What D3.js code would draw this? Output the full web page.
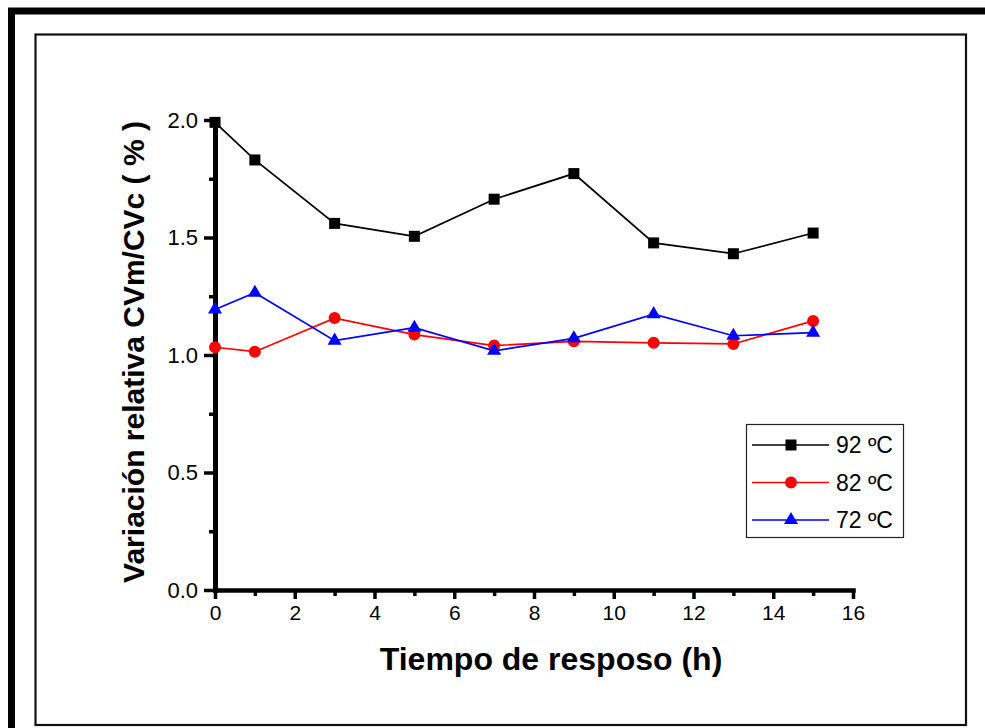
<!DOCTYPE html>
<html>
<head>
<meta charset="utf-8">
<script src="https://cdn.jsdelivr.net/npm/d3@7"></script>
<style>
  body { margin: 0; background: #fff; }
  svg { display: block; font-family: "Liberation Sans", Arial, sans-serif; }
</style>
</head>
<body>
<svg id="chart" width="985" height="728"></svg>
<script>
// time (h) and relative variation for each temperature
var hours = [0, 1, 3, 5, 7, 9, 11, 13, 15];
var t92 = [1.99, 1.83, 1.56, 1.505, 1.663, 1.772, 1.477, 1.431, 1.519];
var t82 = [1.033, 1.014, 1.157, 1.087, 1.040, 1.058, 1.052, 1.047, 1.145];
var t72 = [1.194, 1.265, 1.061, 1.116, 1.018, 1.071, 1.174, 1.082, 1.095];
var seriesNames = ["92 ºC", "82 ºC", "72 ºC"];
var xTicks = [0, 2, 4, 6, 8, 10, 12, 14, 16];
var yTicks = [0, 0.5, 1.0, 1.5, 2.0];

var series = [
  { name: seriesNames[0], values: t92, color: "#000000", symbol: d3.symbolSquare, size: 121 },
  { name: seriesNames[1], values: t82, color: "#ff0000", symbol: d3.symbolCircle, size: 113 },
  { name: seriesNames[2], values: t72, color: "#0000ff", symbol: d3.symbolTriangle, size: 85 }
];

var svg = d3.select("#chart");

// frames
svg.append("rect")
  .attr("x", 11.5).attr("y", 11).attr("width", 1100).attr("height", 1000)
  .attr("fill", "none").attr("stroke", "#000").attr("stroke-width", 7);
svg.append("rect")
  .attr("x", 35.5).attr("y", 34.5).attr("width", 930.5).attr("height", 690.5)
  .attr("fill", "none").attr("stroke", "#111").attr("stroke-width", 2.2);

var x = d3.scaleLinear().domain([0, 16]).range([215, 853]);
var y = d3.scaleLinear().domain([0, 2]).range([590, 120]);

// minor ticks
svg.append("g")
  .attr("transform", "translate(0," + y(0) + ")")
  .call(d3.axisBottom(x).tickValues(d3.range(1, 16, 2)).tickSize(6).tickFormat(""))
  .call(function (g) { g.select(".domain").remove(); })
  .selectAll("line").attr("stroke-width", 3.5);
svg.append("g")
  .attr("transform", "translate(" + x(0) + ",0)")
  .call(d3.axisLeft(y).tickValues([0.25, 0.75, 1.25, 1.75]).tickSize(6).tickFormat(""))
  .call(function (g) { g.select(".domain").remove(); })
  .selectAll("line").attr("stroke-width", 3.5);

// major axes
var xAxis = svg.append("g")
  .attr("transform", "translate(0," + y(0) + ")")
  .call(d3.axisBottom(x).tickValues(xTicks).tickSize(9).tickSizeOuter(0).tickPadding(6).tickFormat(d3.format("d")));
var yAxis = svg.append("g")
  .attr("transform", "translate(" + x(0) + ",0)")
  .call(d3.axisLeft(y).tickValues(yTicks).tickSize(11).tickSizeOuter(0).tickPadding(6).tickFormat(d3.format(".1f")));

[xAxis, yAxis].forEach(function (g) {
  g.select(".domain").attr("stroke-width", 4.5).attr("stroke-linecap", "square");
  g.selectAll(".tick line").attr("stroke-width", 3.5);
  g.selectAll(".tick text").attr("fill", "#000")
    .style("font-size", "21px").style("font-family", "'Liberation Sans', Arial, sans-serif");
});
yAxis.select(".domain").attr("stroke-width", 5);
yAxis.selectAll(".tick text").style("font-size", "22px");

// axis titles
svg.append("text")
  .attr("x", 551).attr("y", 670)
  .attr("text-anchor", "middle")
  .style("font-size", "32px").style("font-weight", "bold")
  .text("Tiempo de resposo (h)");
svg.append("text")
  .attr("transform", "translate(144,352) rotate(-90)")
  .attr("text-anchor", "middle")
  .style("font-size", "30px").style("font-weight", "bold")
  .text("Variación relativa CVm/CVc ( % )");

// lines and markers
var line = d3.line()
  .x(function (d) { return x(d[0]); })
  .y(function (d) { return y(d[1]); });

series.forEach(function (s) {
  var pts = hours.map(function (h, i) { return [h, s.values[i]]; });
  svg.append("path")
    .datum(pts)
    .attr("d", line)
    .attr("fill", "none")
    .attr("stroke", s.color)
    .attr("stroke-width", 1.7);
  svg.append("g").selectAll("path")
    .data(pts)
    .join("path")
    .attr("transform", function (d) { return "translate(" + x(d[0]) + "," + y(d[1]) + ")"; })
    .attr("d", d3.symbol().type(s.symbol).size(s.size))
    .attr("fill", s.color);
});

// legend
var legend = svg.append("g");
legend.append("rect")
  .attr("x", 746.5).attr("y", 424.5).attr("width", 157).attr("height", 113)
  .attr("fill", "#fff").attr("stroke", "#222").attr("stroke-width", 1.2);
series.forEach(function (s, i) {
  var ly = 445 + i * 37.5;
  legend.append("line")
    .attr("x1", 752).attr("x2", 829).attr("y1", ly).attr("y2", ly)
    .attr("stroke", s.color).attr("stroke-width", 1.7);
  legend.append("path")
    .attr("transform", "translate(791," + ly + ")")
    .attr("d", d3.symbol().type(s.symbol).size(s.size))
    .attr("fill", s.color);
  legend.append("text")
    .attr("x", 836).attr("y", ly + 8)
    .style("font-size", "23px")
    .text(s.name);
});
</script>
</body>
</html>
